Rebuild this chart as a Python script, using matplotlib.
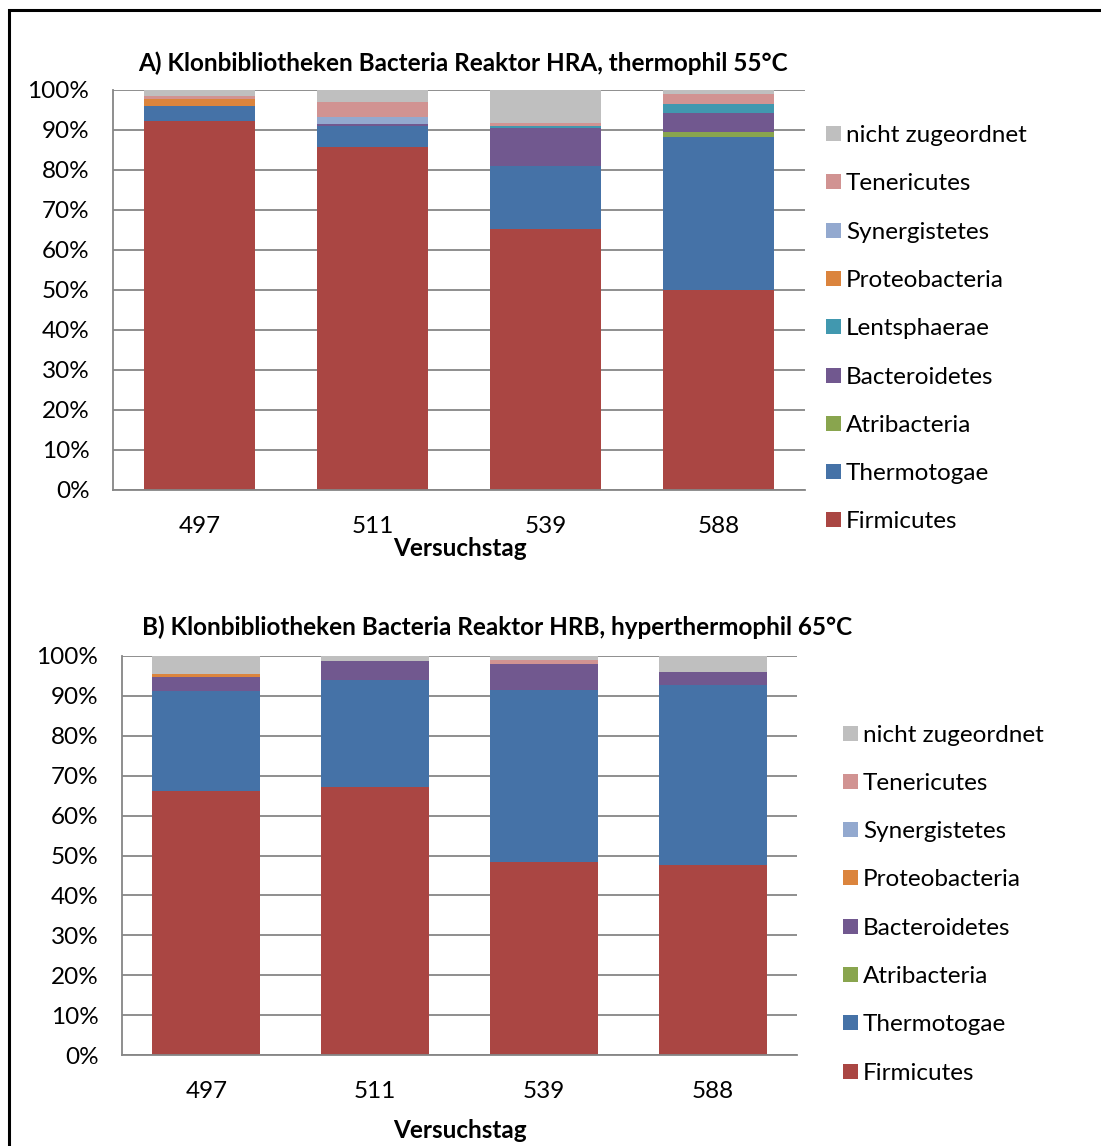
import matplotlib
matplotlib.use("Agg")
import matplotlib.pyplot as plt
from matplotlib.patches import Rectangle
import numpy as np

plt.rcParams['font.family'] = ['Lato', 'DejaVu Sans']

# ---------------- data ----------------
days = ['497', '511', '539', '588']

phyla = ['Firmicutes', 'Thermotogae', 'Atribacteria', 'Bacteroidetes', 'Lentsphaerae',
         'Proteobacteria', 'Synergistetes', 'Tenericutes', 'nicht zugeordnet']

# Panel A (HRA, thermophil 55°C), percent
a_firmicutes = [92.1, 85.7, 65.2, 50.0]
a_thermotogae = [3.8, 5.2, 15.7, 38.1]
a_atribacteria = [0.0, 0.0, 0.0, 1.2]
a_bacteroidetes = [0.0, 0.6, 9.6, 4.8]
a_lentsphaerae = [0.0, 0.0, 0.4, 2.4]
a_proteobacteria = [1.7, 0.0, 0.0, 0.0]
a_synergistetes = [0.0, 1.6, 0.0, 0.0]
a_tenericutes = [0.9, 3.9, 0.8, 2.3]
a_nicht = [1.5, 3.0, 8.3, 1.2]

# Panel B (HRB, hyperthermophil 65°C), percent
b_firmicutes = [66.2, 67.2, 48.4, 47.6]
b_thermotogae = [25.0, 26.7, 43.0, 45.1]
b_atribacteria = [0.0, 0.0, 0.0, 0.0]
b_bacteroidetes = [3.6, 4.9, 6.7, 3.2]
b_proteobacteria = [0.8, 0.0, 0.0, 0.0]
b_synergistetes = [0.0, 0.0, 0.0, 0.0]
b_tenericutes = [0.0, 0.0, 1.0, 0.0]
b_nicht = [4.4, 1.2, 0.9, 4.1]

yticks = [0, 10, 20, 30, 40, 50, 60, 70, 80, 90, 100]
ytick_labels = [f'{v}%' for v in yticks]

title_a = 'A) Klonbibliotheken Bacteria Reaktor HRA, thermophil 55°C'
title_b = 'B) Klonbibliotheken Bacteria Reaktor HRB, hyperthermophil 65°C'
xlabel = 'Versuchstag'

colors = {
    'Firmicutes': '#AA4643',
    'Thermotogae': '#4572A7',
    'Atribacteria': '#89A54E',
    'Bacteroidetes': '#71588F',
    'Lentsphaerae': '#4198AF',
    'Proteobacteria': '#DB843D',
    'Synergistetes': '#93A9CF',
    'Tenericutes': '#D19392',
    'nicht zugeordnet': '#BFBFBF',
}

series_a = {
    'Firmicutes': a_firmicutes, 'Thermotogae': a_thermotogae, 'Atribacteria': a_atribacteria,
    'Bacteroidetes': a_bacteroidetes, 'Lentsphaerae': a_lentsphaerae,
    'Proteobacteria': a_proteobacteria, 'Synergistetes': a_synergistetes,
    'Tenericutes': a_tenericutes, 'nicht zugeordnet': a_nicht,
}
series_b = {
    'Firmicutes': b_firmicutes, 'Thermotogae': b_thermotogae, 'Atribacteria': b_atribacteria,
    'Bacteroidetes': b_bacteroidetes, 'Proteobacteria': b_proteobacteria,
    'Synergistetes': b_synergistetes, 'Tenericutes': b_tenericutes, 'nicht zugeordnet': b_nicht,
}

# ---------------- figure ----------------
W, H = 1101, 1146
fig = plt.figure(figsize=(W / 100, H / 100), dpi=100)
FS = 17.5
FS_T = 17.5
GRID = '#868686'


def px_ax(left, top, right, bottom):
    return [left / W, 1 - bottom / H, (right - left) / W, (bottom - top) / H]


def draw_panel(ax, series):
    x = np.arange(len(days))
    bottom = np.zeros(len(days))
    for name, vals in series.items():
        v = np.array(vals, dtype=float)
        ax.bar(x, v, width=0.64, bottom=bottom, color=colors[name], zorder=3,
               edgecolor='none')
        bottom += v
    ax.set_xlim(-0.5, len(days) - 0.5)
    ax.set_ylim(0, 100)
    ax.set_yticks(yticks)
    ax.set_yticklabels(ytick_labels, fontsize=FS)
    ax.set_xticks(x)
    ax.set_xticklabels(days, fontsize=FS)
    ax.tick_params(axis='y', length=0, pad=17)
    ax.tick_params(axis='x', length=0, pad=19)
    ax.grid(axis='y', color=GRID, linewidth=1.3, zorder=0)
    for s in ['top', 'right']:
        ax.spines[s].set_visible(False)
    for s in ['left', 'bottom']:
        ax.spines[s].set_color(GRID)
        ax.spines[s].set_linewidth(1.3)
        ax.spines[s].set_zorder(4)


ax1 = fig.add_axes(px_ax(113, 89.5, 805, 490))
draw_panel(ax1, series_a)
ax2 = fig.add_axes(px_ax(122, 656, 797, 1055))
draw_panel(ax2, series_b)

# titles and axis labels
fig.text(463 / W, 1 - 63 / H, title_a, ha='center', va='center', fontsize=FS_T, fontweight='bold')
fig.text(497 / W, 1 - 627 / H, title_b, ha='center', va='center', fontsize=FS_T, fontweight='bold')
fig.text(460 / W, 1 - 549 / H, xlabel, ha='center', va='center', fontsize=FS, fontweight='bold')
fig.text(460 / W, 1 - 1130 / H, xlabel, ha='center', va='center', fontsize=FS, fontweight='bold')


def draw_legend(names, x_marker, y_first, step):
    for i, name in enumerate(names):
        yc = y_first + i * step
        fig.add_artist(Rectangle((x_marker / W, 1 - (yc + 7.5) / H), 15 / W, 15 / H,
                                 transform=fig.transFigure, facecolor=colors[name],
                                 edgecolor='none'))
        fig.text((x_marker + 20) / W, 1 - (yc + 8.5) / H, name, ha='left', va='baseline',
                 fontsize=FS)


legend_a = list(reversed(list(series_a.keys())))
legend_b = list(reversed(list(series_b.keys())))
draw_legend(legend_a, 826, 133.5, 48.3)
draw_legend(legend_b, 843, 733, 48.3)

# outer frame (only top and left edges visible)
fig.add_artist(Rectangle((8.5 / W, -0.05), 1.2, 1 - 10 / H + 0.05, transform=fig.transFigure,
                         facecolor='none', edgecolor='black', linewidth=2.2))

fig.savefig('out.png', dpi=100)
